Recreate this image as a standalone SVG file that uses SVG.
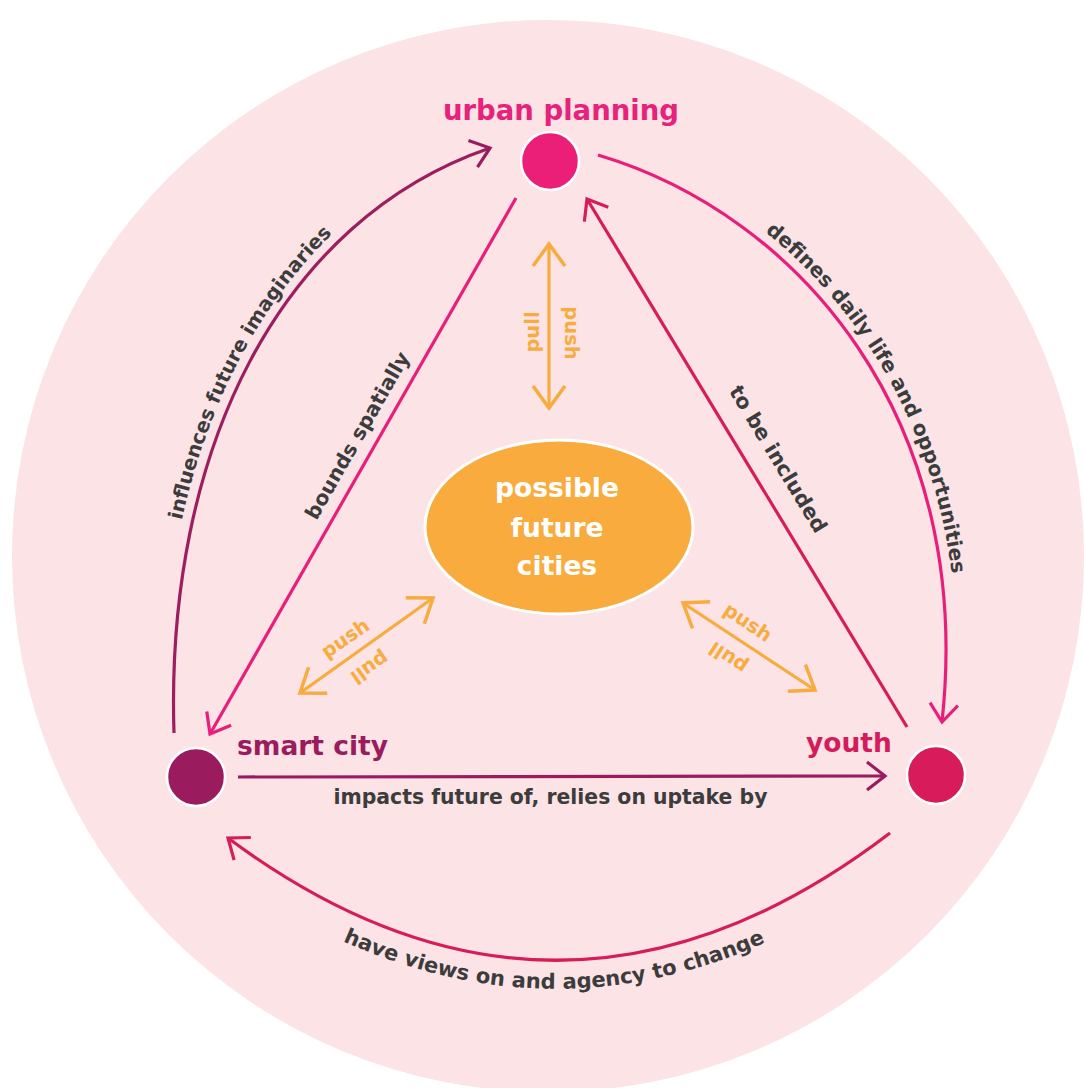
<svg xmlns="http://www.w3.org/2000/svg" width="1084" height="1088" viewBox="0 0 1084 1088">
  <style>
    .lbl { font-family: "DejaVu Sans", "Liberation Sans", sans-serif; font-weight: bold; }
    .edge-text { font-size: 19.8px; fill: #3c3c3c; }
    .pp { font-size: 19.5px; fill: #f8ab3e; }
    .conn { fill: none; stroke-width: 3.2; }
    .node { stroke: #ffffff; stroke-width: 2.5; }
    .title { font-size: 27px; text-anchor: middle; }
  </style>
  <defs>
    <!-- open chevron arrowheads, one per stroke colour -->
    <marker id="ah-purple" markerUnits="userSpaceOnUse" markerWidth="40" markerHeight="40" refX="0" refY="0" orient="auto" overflow="visible">
      <path d="M-18,-14 L0,0 L-18,14" fill="none" stroke="#9b1c5e" stroke-width="3.2"/>
    </marker>
    <marker id="ah-pink" markerUnits="userSpaceOnUse" markerWidth="40" markerHeight="40" refX="0" refY="0" orient="auto" overflow="visible">
      <path d="M-18,-14 L0,0 L-18,14" fill="none" stroke="#e91e7a" stroke-width="3.2"/>
    </marker>
    <marker id="ah-crimson" markerUnits="userSpaceOnUse" markerWidth="40" markerHeight="40" refX="0" refY="0" orient="auto" overflow="visible">
      <path d="M-18,-14 L0,0 L-18,14" fill="none" stroke="#d61c5a" stroke-width="3.2"/>
    </marker>
    <marker id="ah-orange" markerUnits="userSpaceOnUse" markerWidth="50" markerHeight="50" refX="0" refY="0" orient="auto-start-reverse" overflow="visible">
      <path d="M-22,-16 L0,0 L-22,16" fill="none" stroke="#f8ab3e" stroke-width="3.5"/>
    </marker>
    <!-- baselines for the edge labels -->
    <path id="tp-infl" d="M163,733 C154,450 270,215 486,138"/>
    <path id="tp-def" d="M601,144.5 C806,206 985.5,417 953,723"/>
    <path id="tp-bounds" d="M289,569.2 L437.8,308.6"/>
    <path id="tp-incl" d="M694.2,334.5 L850,590.9"/>
    <path id="tp-views" d="M205,860 Q560,1120 912,855"/>
  </defs>

  <!-- backdrop -->
  <rect x="0" y="0" width="1084" height="1088" fill="#ffffff"/>
  <circle cx="548" cy="556" r="536" fill="#fbe3e6"/>

  <g id="connectors">
    <!-- smart city -> urban planning -->
    <path class="conn" stroke="#9e1d5f" d="M174,733 C165,450 280,220 490,148" marker-end="url(#ah-purple)"/>
    <text class="lbl edge-text"><textPath href="#tp-infl" startOffset="214">influences future imaginaries</textPath></text>

    <!-- urban planning -> youth -->
    <path class="conn" stroke="#e91e7a" d="M598,155 C800,215 975,420 942,722" marker-end="url(#ah-pink)"/>
    <text class="lbl edge-text" style="font-size:20.2px"><textPath href="#tp-def" startOffset="187">defines daily life and opportunities</textPath></text>

    <!-- urban planning -> smart city -->
    <path class="conn" stroke="#e91e7a" d="M516,198 L210,734" marker-end="url(#ah-pink)"/>
    <text class="lbl edge-text" text-anchor="middle" style="font-size:20.3px"><textPath href="#tp-bounds" startOffset="50%">bounds spatially</textPath></text>

    <!-- youth -> urban planning -->
    <path class="conn" stroke="#d61c5a" d="M907,727 L587,199" marker-end="url(#ah-crimson)"/>
    <text class="lbl edge-text" text-anchor="middle" style="font-size:20.8px"><textPath href="#tp-incl" startOffset="50%">to be included</textPath></text>

    <!-- smart city -> youth -->
    <path class="conn" stroke="#9b1c5e" d="M238,777 L885,776" marker-end="url(#ah-purple)"/>
    <text class="lbl edge-text" x="550.5" y="804" text-anchor="middle" style="font-size:20.4px">impacts future of, relies on uptake by</text>

    <!-- youth -> smart city -->
    <path class="conn" stroke="#d61c5a" d="M890,833 Q560,1085 228,838" marker-end="url(#ah-crimson)"/>
    <text class="lbl edge-text" text-anchor="middle" style="font-size:21px"><textPath href="#tp-views" startOffset="49.3%">have views on and agency to change</textPath></text>

    <!-- push / pull exchanges with the centre -->
    <path class="conn" stroke="#f8ab3e" stroke-width="3.5" d="M549,244 L549,408" marker-start="url(#ah-orange)" marker-end="url(#ah-orange)"/>
    <text class="lbl pp" text-anchor="middle" y="7" transform="translate(532,332) rotate(-90)">pull</text>
    <text class="lbl pp" text-anchor="middle" y="7" transform="translate(572,333) rotate(90)">push</text>

    <path class="conn" stroke="#f8ab3e" stroke-width="3.5" d="M300,693 L433,598" marker-start="url(#ah-orange)" marker-end="url(#ah-orange)"/>
    <text class="lbl pp" text-anchor="middle" y="7" transform="translate(345,638) rotate(-34.7)">push</text>
    <text class="lbl pp" text-anchor="middle" y="7" transform="translate(370,668) rotate(145.3)">pull</text>

    <path class="conn" stroke="#f8ab3e" stroke-width="3.5" d="M683,603 L815,690" marker-start="url(#ah-orange)" marker-end="url(#ah-orange)"/>
    <text class="lbl pp" text-anchor="middle" y="7" transform="translate(748,622) rotate(33.5)">push</text>
    <text class="lbl pp" text-anchor="middle" y="7" transform="translate(728,658) rotate(213.5)">pull</text>
  </g>

  <g id="node-urban-planning">
    <circle class="node" cx="550" cy="161" r="29" fill="#eb1f78"/>
    <text class="lbl title" x="561" y="120" fill="#e8217a" style="font-size:27.5px">urban planning</text>
  </g>

  <g id="node-smart-city">
    <circle class="node" cx="196" cy="777" r="29" fill="#9b1c5e"/>
    <text class="lbl" x="237" y="755" fill="#9b1c5e" style="font-size:26.5px">smart city</text>
  </g>

  <g id="node-youth">
    <circle class="node" cx="936" cy="775" r="29" fill="#d81b5b"/>
    <text class="lbl" x="806" y="752" fill="#d41c5c" style="font-size:26.5px">youth</text>
  </g>

  <g id="node-possible-future-cities">
    <ellipse cx="559" cy="527" rx="134" ry="87" fill="#f9ab3d" stroke="#ffffff" stroke-width="3"/>
    <text class="lbl" x="557" y="497" text-anchor="middle" fill="#ffffff" style="font-size:26.5px">possible</text>
    <text class="lbl" x="557" y="537" text-anchor="middle" fill="#ffffff" style="font-size:26.5px">future</text>
    <text class="lbl" x="557" y="575" text-anchor="middle" fill="#ffffff" style="font-size:26.5px">cities</text>
  </g>
</svg>
